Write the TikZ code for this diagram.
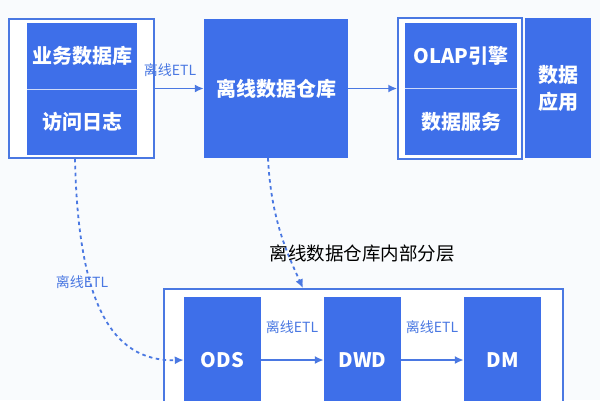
\documentclass[tikz,border=0pt]{standalone}
\usepackage{fontspec}
\setmainfont{Noto Sans CJK SC}
\usetikzlibrary{arrows.meta}
\definecolor{bluefill}{HTML}{3E6FE9}
\definecolor{blueline}{HTML}{4A78E2}
\definecolor{bgc}{HTML}{F9FBFD}
\begin{document}
\begin{tikzpicture}[x=1pt,y=-1pt,
  blk/.style={fill=bluefill, draw=none, text=white, font=\fontsize{20}{27}\selectfont\bfseries, inner sep=0pt, align=center},
  frm/.style={draw=blueline, line width=1.5pt, fill=white, inner sep=0pt},
  etl/.style={text=blueline, font=\fontsize{14}{16}\selectfont, inner sep=0pt},
  flow/.style={draw=blueline, line width=1.8pt, -{Latex[length=9pt,width=8pt]}},
  dflow/.style={flow, line width=1.8pt, dash pattern=on 3.5pt off 3.5pt}]
\useasboundingbox (0,0) rectangle (600,400);
\fill[bgc] (0,0) rectangle (600,400);
\clip (0,0) rectangle (600,400);

% top row
\node[frm, minimum width=145pt, minimum height=139pt] (srcframe) at (81.5,88.5) {};
\node[blk, minimum width=110pt, minimum height=66pt] (srcdb) at (82,56) {业务数据库};
\node[blk, minimum width=110pt, minimum height=66pt] (srclog) at (82,122) {访问日志};
\draw[white!75!bluefill, line width=1pt] (srcdb.south west) -- (srcdb.south east);

\node[blk, minimum width=144pt, minimum height=139pt] (dw) at (276,88.5) {离线数据仓库};

\node[frm, minimum width=124pt, minimum height=141pt] (olapframe) at (460,88.5) {};
\node[blk, minimum width=112pt, minimum height=65pt] (olap) at (461,55.5) {OLAP引擎};
\node[blk, minimum width=112pt, minimum height=67pt] (dsvc) at (461,121.5) {数据服务};
\draw[white!75!bluefill, line width=1pt] (olap.south west) -- (olap.south east);

\node[blk, minimum width=66pt, minimum height=140pt] (app) at (558,88) {数据\\应用};

\draw[flow] (srcframe.east) -- (dw.west);
\node[etl] (l1) at (170,70) {离线ETL};
\draw[flow] (dw.east) -- (olapframe.west);

% bottom layer
\node[frm, minimum width=399pt, minimum height=140pt] (layerframe) at (363.5,359) {};
\node[blk, minimum width=77pt, minimum height=126pt] (ods) at (222.5,360) {ODS};
\node[blk, minimum width=77pt, minimum height=126pt] (dwd) at (362.5,360) {DWD};
\node[blk, minimum width=77pt, minimum height=126pt] (dm) at (502.5,360) {DM};

\draw[flow] (ods.east) -- (dwd.west);
\draw[flow] (dwd.east) -- (dm.west);
\node[etl] (l3) at (292,327) {离线ETL};
\node[etl] (l4) at (432,327) {离线ETL};

% dashed curves
\draw[dflow] ([xshift=-6.5pt]srcframe.south) .. controls (78,300) and (110,362) .. (ods.west);
\node[etl] (l2) at (82,282) {离线ETL};
\draw[dflow] ([xshift=-8pt]dw.south) .. controls (271,220) and (288,255) .. ([xshift=-60.5pt]layerframe.north);

\node[font=\fontsize{18.5}{20}\selectfont, inner sep=0pt] (title) at (362,253) {离线数据仓库内部分层};
\end{tikzpicture}
\end{document}
